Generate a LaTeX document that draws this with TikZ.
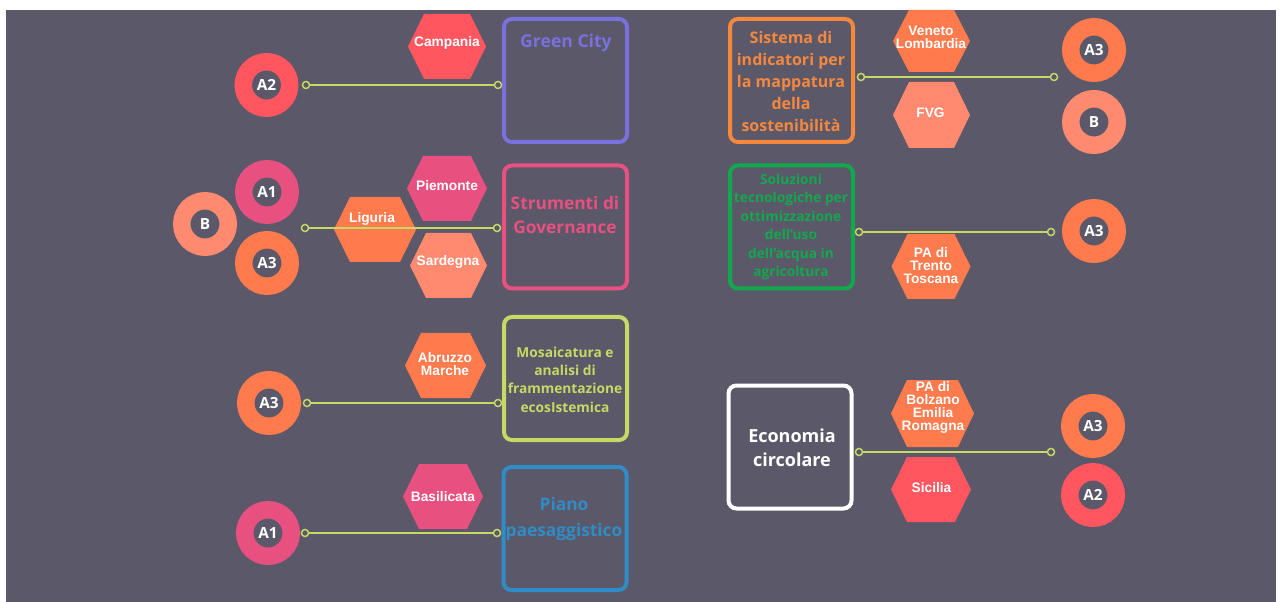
\documentclass[tikz,border=0pt]{standalone}
\usepackage{fontspec}
\setmainfont{Open Sans}
\newfontfamily\hexfont{Liberation Sans}
\definecolor{bg}{HTML}{5B5869}
\definecolor{cpurple}{HTML}{7A70DE}
\definecolor{cpink}{HTML}{E8507F}
\definecolor{corange}{HTML}{FF7A4C}
\definecolor{csalmon}{HTML}{FF8A70}
\definecolor{cred}{HTML}{FF5660}
\definecolor{cgreen}{HTML}{12A84E}
\definecolor{clime}{HTML}{C6D964}
\definecolor{cblue}{HTML}{2F8CC6}
\definecolor{camber}{HTML}{F5883F}
\newcommand\hexshape[5]{%
  \fill[#5] (#1-#3,#2) -- (#1-#3+16,#2-#4) -- (#1+#3-16,#2-#4) -- (#1+#3,#2)
    -- (#1+#3-16,#2+#4) -- (#1-#3+16,#2+#4) -- cycle;}
\tikzset{
  hextext/.style={font=\hexfont\bfseries\fontsize{10.3}{9.8}\selectfont, text=white, align=center, inner sep=0pt},
  ring/.style={circle, draw=#1, fill=bg, line width=13.1pt, minimum size=34.9pt, inner sep=0pt,
    text=white, font=\bfseries\fontsize{11.5}{12}\selectfont},
  dot/.style={circle, draw=clime, fill=bg, line width=1.1pt, minimum size=5.3pt, inner sep=0pt},
  conn/.style={draw=clime, line width=1.2pt},
  box/.style={draw=#1, rounded corners=6pt, line width=3pt, minimum width=92.25pt, minimum height=92.25pt, inner sep=0pt},
  boxtext/.style={text=#1, align=center, inner sep=0pt}
}
\begin{document}
\begin{tikzpicture}[x=0.75pt,y=-0.75pt]
\useasboundingbox (0,0) rectangle (1282,602);
\fill[white] (0,0) rectangle (1282,602);
\fill[bg] (6,10) rectangle (1276,602);

% hexagons (shapes)
\hexshape{447}{46.5}{39}{32.5}{cred}
\hexshape{931.5}{41}{38.5}{31}{corange}
\hexshape{931.5}{115}{38.5}{33}{csalmon}
\hexshape{447}{188.5}{40}{32.5}{cpink}
\hexshape{375}{229.5}{41}{32.5}{corange}
\hexshape{448.5}{265.5}{38.5}{32.5}{csalmon}
\hexshape{931}{266.5}{39.5}{32.5}{corange}
\hexshape{445.5}{365.5}{40.5}{32.5}{corange}
\hexshape{443}{496.5}{40}{32.5}{cpink}
\hexshape{932.5}{413.5}{41.5}{33.5}{corange}
\hexshape{931}{489.5}{40}{32.5}{cred}

% boxes
\node[box=cpurple] (gc) at (565.5,80.5) {};
\node[box=camber] (sis) at (791.5,80.5) {};
\node[box=cpink] (str) at (565.5,227) {};
\node[box=cgreen] (sol) at (791.5,227) {};
\node[box=clime] (mos) at (565.5,378.5) {};
\node[box=cblue] (pia) at (565,528.5) {};
\node[box=white] (eco) at (790,447) {};

% box texts
\node[boxtext=cpurple, font=\bfseries\fontsize{13.2}{18}\selectfont] (gct) at (566,43) {Green City};
\node[boxtext=camber, font=\bfseries\fontsize{12}{16.5}\selectfont] (sist) at (791,81.5) {Sistema di\\indicatori per\\la mappatura\\della\\sostenibilità};
\node[boxtext=cpink, font=\bfseries\fontsize{13}{18}\selectfont] (strt) at (565,215) {Strumenti di\\Governance};
\node[boxtext=cgreen, font=\bfseries\fontsize{10.3}{13.9}\selectfont] (solt) at (791,227) {Soluzioni\\tecnologiche per\\ottimizzazione\\dell'uso\\dell'acqua in\\agricoltura};
\node[boxtext=clime, font=\bfseries\fontsize{10.3}{13.8}\selectfont] (most) at (565,379.5) {Mosaicatura e\\analisi di\\frammentazione\\ecosIstemica};
\node[boxtext=cblue, font=\bfseries\fontsize{13}{19.5}\selectfont] (piat) at (564,519) {Piano\\paesaggistico};
\node[boxtext=white, font=\bfseries\fontsize{13.5}{18}\selectfont] (ecot) at (792,448) {Economia\\circolare};

% rings
\node[ring=cred] (ra2a) at (266.5,85) {A2};
\node[ring=csalmon] (rba) at (205,224) {B};
\node[ring=cpink] (ra1a) at (267,192) {A1};
\node[ring=corange] (ra3a) at (267,263) {A3};
\node[ring=corange] (ra3b) at (269,403) {A3};
\node[ring=cpink] (ra1b) at (268,533) {A1};
\node[ring=corange] (ra3c) at (1094,50) {A3};
\node[ring=csalmon] (rbb) at (1094,122) {B};
\node[ring=corange] (ra3d) at (1094,231) {A3};
\node[ring=corange] (ra3e) at (1093,426) {A3};
\node[ring=cred] (ra2b) at (1093,495) {A2};

% connectors
\node[dot] (d1a) at (306,85) {};   \node[dot] (d1b) at (498,85) {};
\node[dot] (d2a) at (305,228) {};  \node[dot] (d2b) at (497,228) {};
\node[dot] (d3a) at (307,403) {};  \node[dot] (d3b) at (498,403) {};
\node[dot] (d4a) at (305,533) {};  \node[dot] (d4b) at (497,533) {};
\node[dot] (d5a) at (861,77) {};   \node[dot] (d5b) at (1054,77) {};
\node[dot] (d6a) at (859,232) {};  \node[dot] (d6b) at (1051,232) {};
\node[dot] (d7a) at (859,452) {};  \node[dot] (d7b) at (1051,452) {};
\draw[conn] (d1a) -- (d1b);
\draw[conn] (d2a) -- (d2b);
\draw[conn] (d3a) -- (d3b);
\draw[conn] (d4a) -- (d4b);
\draw[conn] (d5a) -- (d5b);
\draw[conn] (d6a) -- (d6b);
\draw[conn] (d7a) -- (d7b);

% hexagon texts
\node[hextext] (hcam) at (447,43) {Campania};
\node[hextext] (hven) at (931,37.5) {Veneto\\Lombardia};
\node[hextext] (hfvg) at (930.5,113) {FVG};
\node[hextext] (hpie) at (447,186) {Piemonte};
\node[hextext] (hlig) at (372,219) {Liguria};
\node[hextext] (hsar) at (448,262) {Sardegna};
\node[hextext] (htre) at (931,266) {PA di\\Trento\\Toscana};
\node[hextext] (habr) at (445,364.5) {Abruzzo\\Marche};
\node[hextext] (hbas) at (443,497) {Basilicata};
\node[hextext] (hbol) at (933,407.5) {PA di\\Bolzano\\Emilia\\Romagna};
\node[hextext] (hsic) at (931.5,488) {Sicilia};
\end{tikzpicture}
\end{document}
